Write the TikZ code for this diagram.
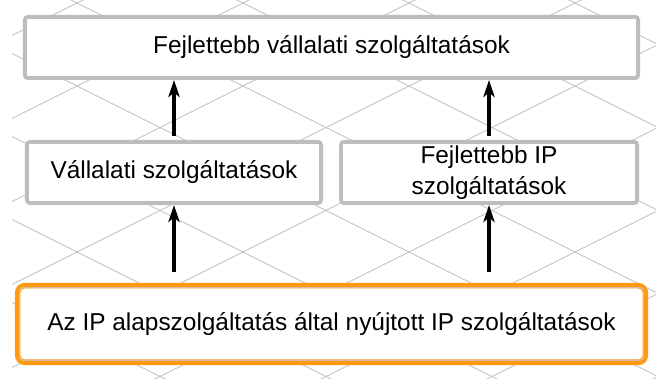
\documentclass[tikz,border=0pt]{standalone}
\usepackage{fontspec}
\setmainfont{Liberation Sans}
\usepackage{xcolor}
\usetikzlibrary{arrows.meta,positioning}
\definecolor{boxgray}{HTML}{BDBDBD}
\definecolor{gridgray}{HTML}{BFBFBF}
\definecolor{baseorange}{HTML}{FF9A12}
\definecolor{innergray}{HTML}{C9CED0}
\tikzset{
  layerbox/.style={
    draw=boxgray, fill=white, line width=1.9bp, rounded corners=1.5bp,
    align=center, inner sep=0pt, minimum height=30.6bp,
    font=\fontsize{12.2bp}{15.5bp}\selectfont
  },
  basebox/.style={
    draw=baseorange, fill=white, line width=2.8bp, rounded corners=3.5bp,
    align=center, inner sep=0pt, minimum width=313.8bp, minimum height=38.3bp,
    font=\fontsize{12.2bp}{15.5bp}\selectfont
  },
  gridline/.style={draw=gridgray, line width=0.4bp},
  uparrow/.style={-{Stealth[length=8.5bp,width=5.6bp,inset=2.2bp]}, line width=1.6bp, black}
}
\begin{document}
\begin{tikzpicture}[x=0.5bp,y=0.5bp]
  \useasboundingbox (0,0) rectangle (656,379);
  \fill[white] (0,0) rectangle (656,379);

  % background lattice
  \begin{scope}
    \clip (12,0) rectangle (656,379);
    \foreach \k in {-5,...,4} {
      \draw[gridline] (0,{331.5-83*\k}) -- (656,{3.5-83*\k});
    }
    \foreach \k in {-2,...,7} {
      \draw[gridline] (0,{254.5-83*\k}) -- (656,{582.5-83*\k});
    }
  \end{scope}

  % layers
  \node[layerbox,minimum width=306.6bp] (fejlett) at (331.5,331.5) {Fejlettebb vállalati szolgáltatások};
  \node[layerbox,minimum width=147.1bp] (vallalati) at (174,206.5) {Vállalati szolgáltatások};
  \node[layerbox,minimum width=148.1bp] (fejlettip) at (489,206.5) {Fejlettebb IP\\szolgáltatások};
  \node[basebox] (alap) at (331.5,55) {Az IP alapszolgáltatás által nyújtott IP szolgáltatások};
  \draw[innergray,line width=0.4bp,rounded corners=1.5bp]
    ([shift={(4.8,4.8)}]alap.south west) rectangle ([shift={(-4.8,-4.8)}]alap.north east);

  % arrows
  \draw[uparrow,shorten <=2bp] (vallalati.north) -- (vallalati.north |- fejlett.south);
  \draw[uparrow,shorten <=2bp] (fejlettip.north) -- (fejlettip.north |- fejlett.south);
  \draw[uparrow,shorten <=5.5bp] (vallalati.south |- alap.north) -- (vallalati.south);
  \draw[uparrow,shorten <=5.5bp] (fejlettip.south |- alap.north) -- (fejlettip.south);
\end{tikzpicture}
\end{document}
